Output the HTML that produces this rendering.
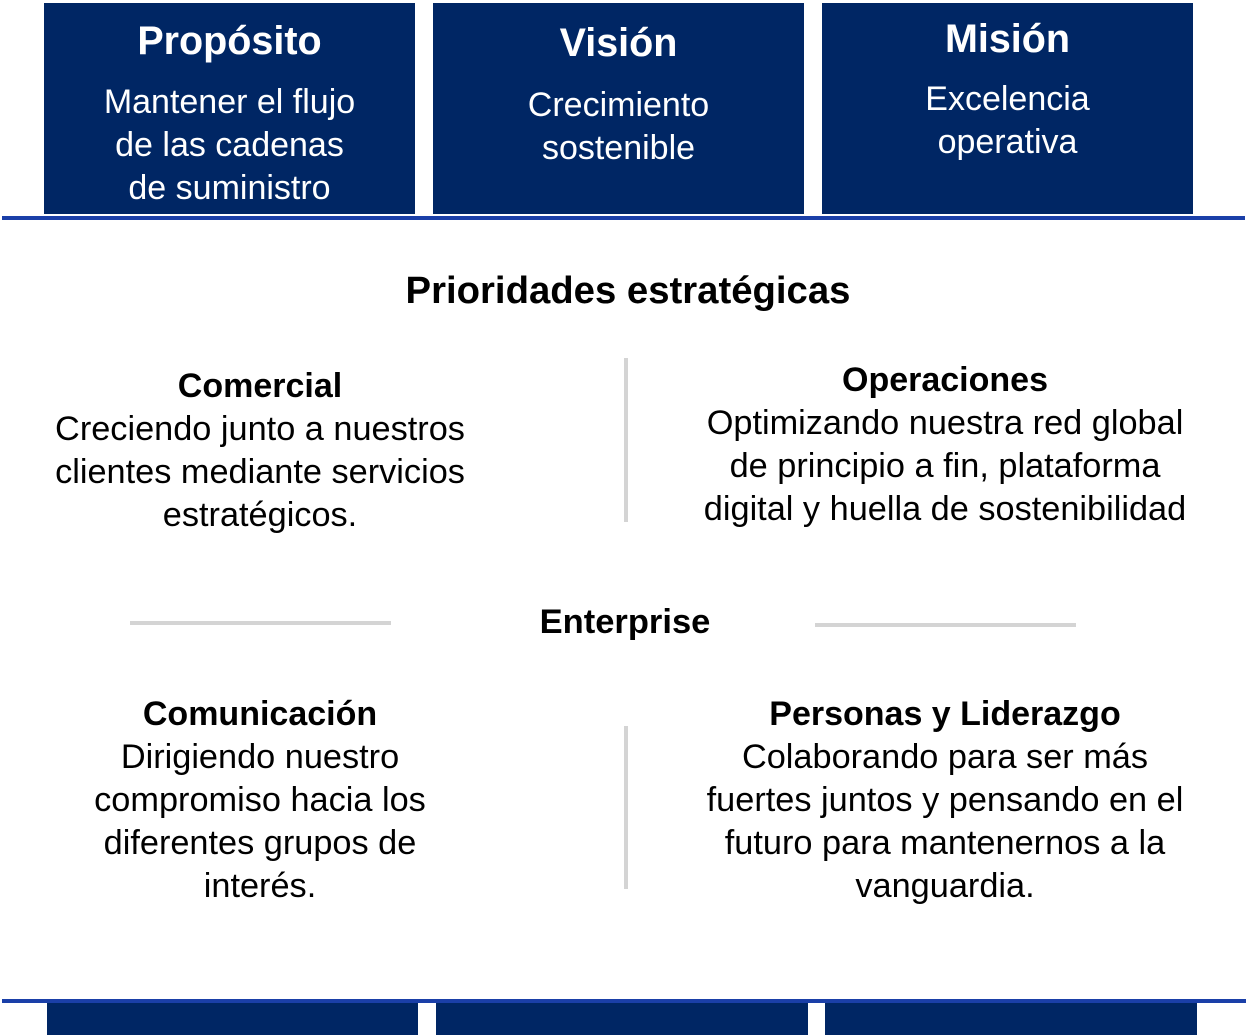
<!DOCTYPE html>
<html><head><meta charset="utf-8"><style>
body{margin:0;width:1250px;height:1035px;position:relative;background:#fff;font-family:"Liberation Sans",Arial,sans-serif;overflow:hidden}
.box{position:absolute;background:#002664;color:#fff;text-align:center}
.box .t{font-weight:bold;font-size:39.5px;line-height:44px}
.box .b{font-size:34px;line-height:43px}
.ln{position:absolute;background:#1a3fa8}
.tx{position:absolute;text-align:center;color:#000;font-size:34.3px;line-height:43px}
.tx b{font-size:34px}
.g{position:absolute;background:#d4d4d4}
</style></head><body>
<div class="box" style="left:44px;top:3px;width:371px;height:211px"><div class="t" style="margin-top:16px">Propósito</div><div class="b" style="margin-top:18px">Mantener el flujo<br>de las cadenas<br>de suministro</div></div>
<div class="box" style="left:433px;top:3px;width:371px;height:211px"><div class="t" style="margin-top:18px">Visión</div><div class="b" style="margin-top:19px">Crecimiento<br>sostenible</div></div>
<div class="box" style="left:822px;top:3px;width:371px;height:211px"><div class="t" style="margin-top:14px">Misión</div><div class="b" style="margin-top:17px">Excelencia<br>operativa</div></div>
<div class="ln" style="left:2px;top:216px;width:1243px;height:4px"></div>
<div class="tx" style="left:0;width:1256px;top:269px;font-weight:bold;font-size:38.3px">Prioridades estratégicas</div>
<div class="tx" style="left:0px;width:520px;top:365px"><b>Comercial</b><br>Creciendo junto a nuestros<br>clientes mediante servicios<br>estratégicos.</div>
<div class="tx" style="left:665px;width:560px;top:359px"><b>Operaciones</b><br>Optimizando nuestra red global<br>de principio a fin, plataforma<br>digital y huella de sostenibilidad</div>
<div class="g" style="left:624px;top:358px;width:4px;height:164px"></div>
<div class="g" style="left:130px;top:621px;width:261px;height:4px"></div>
<div class="g" style="left:815px;top:623px;width:261px;height:4px"></div>
<div class="tx" style="left:475px;width:300px;top:601px;font-weight:bold;font-size:34.5px">Enterprise</div>
<div class="tx" style="left:0px;width:520px;top:693px"><b>Comunicación</b><br>Dirigiendo nuestro<br>compromiso hacia los<br>diferentes grupos de<br>interés.</div>
<div class="tx" style="left:665px;width:560px;top:693px"><b>Personas y Liderazgo</b><br>Colaborando para ser más<br>fuertes juntos y pensando en el<br>futuro para mantenernos a la<br>vanguardia.</div>
<div class="g" style="left:624px;top:726px;width:4px;height:163px"></div>
<div class="ln" style="left:2px;top:999px;width:1244px;height:4px"></div>
<div class="box" style="left:47px;top:1003px;width:371px;height:32px"></div>
<div class="box" style="left:436px;top:1003px;width:372px;height:32px"></div>
<div class="box" style="left:825px;top:1003px;width:372px;height:32px"></div>
</body></html>
